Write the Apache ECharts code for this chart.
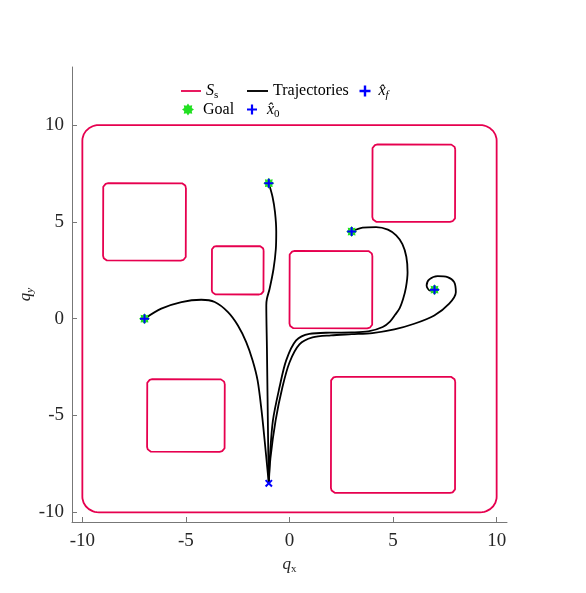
<!DOCTYPE html>
<html>
<head>
<meta charset="utf-8">
<script src="https://cdn.jsdelivr.net/npm/echarts@6/dist/echarts.min.js"></script>
<style>
html, body { margin: 0; padding: 0; background: #fff; }
#main { width: 586px; height: 593px; }
</style>
</head>
<body>
<div id="main"></div>
<script>
'use strict';
// safe set: centre x, centre y, half width, half height, corner radius
var boundary = [0, 0, 10, 10, 0.8];
var obstacles = [
	[-7, 5, 2, 2, 0.25],
	[-2.5, 2.5, 1.25, 1.25, 0.22],
	[2, 1.5, 2, 2, 0.25],
	[6, 7, 2, 2, 0.25],
	[-5, -5, 1.875, 1.875, 0.25],
	[5, -6, 3, 3, 0.25]
];

var startPoint = [[-1, -8.5]];
var goals = [[-7, 0], [-1, 7], [3, 4.5], [7, 1.5]];
var finalStates = [[-7, 0], [-1, 7], [3, 4.5], [7, 1.5]];

// trajectories
var trajWest = [[-1, -8.5], [-1.06, -7.84], [-1.2, -6.29], [-1.35, -4.74], [-1.54, -3.19], [-1.78, -2.16],
	[-2.09, -1.21], [-2.49, -0.35], [-2.97, 0.34], [-3.61, 0.86], [-4.26, 0.98], [-5.22, 0.86], [-6.19, 0.52], [-7, 0]];
var trajNorth = [[-1, -8.5], [-1.03, -6.5], [-1.06, -4], [-1.09, -1.5], [-1.12, 0.69], [-1.09, 1.03], [-0.96, 1.55],
	[-0.77, 2.58], [-0.66, 3.6], [-0.64, 4.5], [-0.7, 5.5], [-0.82, 6.3], [-1, 7]];
var trajNorthEast = [[-1, -8.5], [-0.95, -7.2], [-0.8, -5.25], [-0.48, -3.53], [-0.16, -2.15], [0.32, -1.12], [0.96, -0.78],
	[2, -0.72], [3, -0.71], [3.8, -0.66], [4.5, -0.43], [4.85, -0.15], [5.1, 0.2], [5.32, 0.55], [5.48, 1],
	[5.62, 1.6], [5.7, 2.4], [5.64, 3.2], [5.45, 3.85], [5.15, 4.3], [4.75, 4.6], [4.18, 4.73], [3.53, 4.7], [3, 4.5]];
var trajEast = [[-1, -8.5], [-0.92, -7.2], [-0.67, -5.25], [-0.34, -3.53], [0, -2.26], [0.48, -1.33], [1.11, -0.97],
	[2, -0.86], [3, -0.8], [4, -0.74], [5.06, -0.55], [6.02, -0.26], [6.99, 0.17], [7.71, 0.78], [8.03, 1.37],
	[7.95, 1.89], [7.63, 2.15], [7.15, 2.2], [6.75, 2.03], [6.62, 1.72], [6.78, 1.45], [7, 1.5]];

var xTicks = [-10, -5, 0, 5, 10];
var yTicks = [-10, -5, 0, 5, 10];

var serif = '"Liberation Serif", "Times New Roman", serif';
var red = '#e6004f';
var blue = '#0000ff';
var green = '#22e022';

var plusPath = 'path://M-1.1,-5L1.1,-5L1.1,-1.1L5,-1.1L5,1.1L1.1,1.1L1.1,5L-1.1,5L-1.1,1.1L-5,1.1L-5,-1.1L-1.1,-1.1Z';
var lineIcon = 'path://M0,0L20,0L20,1.8L0,1.8Z';

// asterisk-like blob for the goal marker
function starPath(n, ro, ri) {
	var s = 'path://';
	for (var k = 0; k < 2 * n; k++) {
		var a = k * Math.PI / n;
		var r = k % 2 === 0 ? ro : ri;
		s += (k === 0 ? 'M' : 'L') + (r * Math.cos(a)).toFixed(3) + ',' + (r * Math.sin(a)).toFixed(3);
	}
	return s + 'Z';
}

// rounded rectangle outline from centre, half sizes, radius
function outline(s) {
	var cx = s[0], cy = s[1], hw = s[2], hh = s[3], r = s[4];
	var pts = [];
	var corners = [[hw - r, hh - r, 0], [-hw + r, hh - r, 90], [-hw + r, -hh + r, 180], [hw - r, -hh + r, 270]];
	corners.forEach(function(c) {
		for (var k = 0; k <= 12; k++) {
			var a = (c[2] + k * 90 / 12) * Math.PI / 180;
			pts.push([cx + c[0] + r * Math.cos(a), cy + c[1] + r * Math.sin(a)]);
		}
	});
	pts.push(pts[0]);
	return pts;
}

var richText = {
	t: { fontFamily: serif, fontSize: 16, lineHeight: 20, color: '#000' },
	i: { fontFamily: serif, fontSize: 16, fontStyle: 'italic', lineHeight: 20, color: '#000' },
	sub: { fontFamily: serif, fontSize: 11, fontStyle: 'italic', lineHeight: 20, verticalAlign: 'bottom', color: '#000' },
	subr: { fontFamily: serif, fontSize: 11, lineHeight: 20, verticalAlign: 'bottom', color: '#000' }
};
var legendLabels = {
	'Ss': '{i|S}{subr|s}',
	'Trajectories': '{t|Trajectories}',
	'xf': '{i|x\u0302}{sub|f}',
	'Goal': '{t|Goal}',
	'x0': '{i|x\u0302}{subr|0}'
};

function legendAt(item, left, top, w, h) {
	return {
		data: [item],
		left: left,
		top: top,
		itemWidth: w,
		itemHeight: h,
		selectedMode: false,
		padding: 0,
		formatter: function(n) { return legendLabels[n]; },
		textStyle: { rich: richText }
	};
}

var series = [];
[boundary].concat(obstacles).forEach(function(s) {
	series.push({
		name: 'Ss',
		type: 'line',
		data: outline(s),
		symbol: 'none',
		lineStyle: { color: red, width: 1.8 },
		itemStyle: { color: red },
		silent: true,
		z: 2
	});
});
[trajWest, trajNorth, trajNorthEast, trajEast].forEach(function(t) {
	series.push({
		name: 'Trajectories',
		type: 'line',
		data: t,
		smooth: 0.3,
		symbol: 'none',
		lineStyle: { color: '#000', width: 1.8 },
		itemStyle: { color: '#000' },
		silent: true,
		z: 3
	});
});
series.push({
	name: 'Goal',
	type: 'scatter',
	data: goals,
	symbol: starPath(8, 5, 3.4),
	symbolSize: 11,
	itemStyle: { color: green, opacity: 1 },
	z: 4
});
series.push({
	name: 'xf',
	type: 'scatter',
	data: finalStates,
	symbol: plusPath,
	symbolSize: 9,
	itemStyle: { color: blue, opacity: 1 },
	z: 5
});
series.push({
	name: 'x0',
	type: 'scatter',
	data: startPoint,
	symbol: plusPath,
	symbolRotate: 45,
	symbolSize: 9,
	itemStyle: { color: blue, opacity: 1 },
	z: 5
});

var axisCommon = {
	type: 'value',
	splitLine: { show: false },
	axisLine: { show: true, onZero: false, lineStyle: { color: '#777', width: 1 } },
	axisTick: { show: true, inside: true, length: 5, lineStyle: { color: '#777' } },
	axisLabel: { fontFamily: serif, fontSize: 19, color: '#262626', margin: 8 },
	nameLocation: 'middle',
	nameTextStyle: { rich: richText }
};

var chart = echarts.init(document.getElementById('main'), null, { renderer: 'canvas' });
chart.setOption({
	animation: false,
	backgroundColor: '#fff',
	grid: { left: 72, right: 79, top: 67, bottom: 71, containLabel: false },
	xAxis: echarts.util.merge({
		min: -10.5,
		max: 10.5,
		name: '{q|q}{s|x}',
		nameGap: 32,
		nameTextStyle: { rich: {
			q: { fontFamily: serif, fontSize: 17, fontStyle: 'italic', color: '#262626', lineHeight: 20 },
			s: { fontFamily: serif, fontSize: 11, color: '#262626', lineHeight: 20, verticalAlign: 'bottom' }
		} },
		axisTick: { customValues: xTicks },
		axisLabel: { customValues: xTicks, margin: 10 }
	}, axisCommon),
	yAxis: echarts.util.merge({
		min: -10.5,
		max: 13,
		name: '{q|q}{s|y}',
		nameGap: 36,
		nameMoveOverlap: false,
		nameTextStyle: { rich: {
			q: { fontFamily: serif, fontSize: 17, fontStyle: 'italic', color: '#262626', lineHeight: 20 },
			s: { fontFamily: serif, fontSize: 11, fontStyle: 'italic', color: '#262626', lineHeight: 20, verticalAlign: 'bottom' }
		} },
		axisTick: { customValues: yTicks },
		axisLabel: { customValues: yTicks }
	}, axisCommon),
	legend: [
		legendAt({ name: 'Ss', icon: lineIcon }, 181, 83, 20, 14),
		legendAt({ name: 'Trajectories', icon: lineIcon }, 247, 83, 21, 14),
		legendAt('xf', 359.5, 83, 17, 11),
		legendAt('Goal', 182, 101.5, 20, 12),
		legendAt('x0', 247, 101.5, 20, 10)
	],
	series: series
});
</script>
</body>
</html>
